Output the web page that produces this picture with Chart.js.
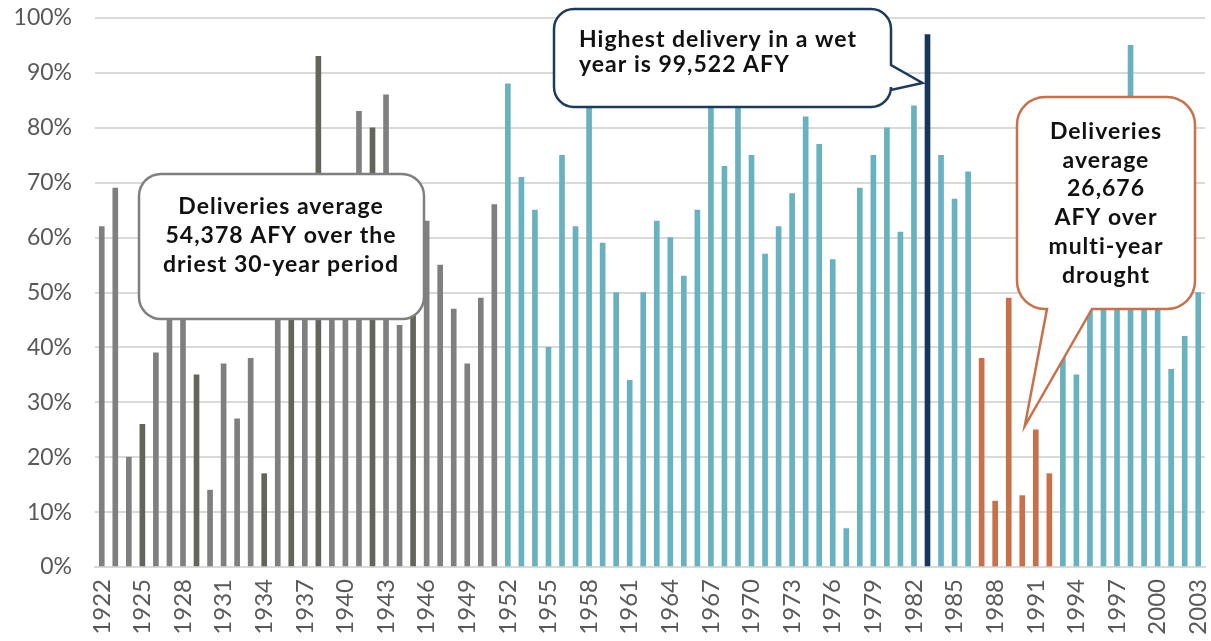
<!DOCTYPE html>
<html>
<head>
<meta charset="utf-8">
<script src="https://cdn.jsdelivr.net/npm/chart.js@4.4.1/dist/chart.umd.min.js"></script>
<style>
  html, body { margin: 0; padding: 0; background: #fff; overflow: hidden; }
  canvas { display: block; }
</style>
</head>
<body>
<canvas id="deliveries" width="1211" height="641"></canvas>
<script>
// Water year (categories)
const years = [
  1922, 1923, 1924, 1925, 1926, 1927, 1928, 1929, 1930, 1931,
  1932, 1933, 1934, 1935, 1936, 1937, 1938, 1939, 1940, 1941,
  1942, 1943, 1944, 1945, 1946, 1947, 1948, 1949, 1950, 1951,
  1952, 1953, 1954, 1955, 1956, 1957, 1958, 1959, 1960, 1961,
  1962, 1963, 1964, 1965, 1966, 1967, 1968, 1969, 1970, 1971,
  1972, 1973, 1974, 1975, 1976, 1977, 1978, 1979, 1980, 1981,
  1982, 1983, 1984, 1985, 1986, 1987, 1988, 1989, 1990, 1991,
  1992, 1993, 1994, 1995, 1996, 1997, 1998, 1999, 2000, 2001,
  2002, 2003
];

// Delivery as % of full allocation
const deliveryPct = [
  62, 69, 20, 26, 39, 64, 55, 35, 14, 37,
  27, 38, 17, 62, 63, 70, 93, 68, 66, 83,
  80, 86, 44, 55, 63, 55, 47, 37, 49, 66,
  88, 71, 65, 40, 75, 62, 86, 59, 50, 34,
  50, 63, 60, 53, 65, 90, 73, 92, 75, 57,
  62, 68, 82, 77, 56, 7, 69, 75, 80, 61,
  84, 97, 75, 67, 72, 38, 12, 49, 13, 25,
  17, 45, 35, 55, 60, 70, 95, 65, 52, 36,
  42, 50
];

const yTicks = [0, 10, 20, 30, 40, 50, 60, 70, 80, 90, 100];

// year groups used for colouring
const driestPeriod = [1922, 1951];
const darkYears = [1925, 1929, 1934, 1936, 1938, 1942, 1945];
const droughtYears = [1987, 1988, 1989, 1990, 1991, 1992];
const wettestYear = 1983;

const COLORS = {
  dry: '#7f7f7f',
  dryDark: '#62665a',
  normal: '#68b1c1',
  wettest: '#17365d',
  drought: '#c8704a'
};

function barColor(year) {
  if (year === wettestYear) return COLORS.wettest;
  if (droughtYears.includes(year)) return COLORS.drought;
  if (year >= driestPeriod[0] && year <= driestPeriod[1]) {
    return darkYears.includes(year) ? COLORS.dryDark : COLORS.dry;
  }
  return COLORS.normal;
}

// Callout boxes (annotation layout, pixels)
const callouts = [
  {
    box: { x: 139, y: 174, w: 285, h: 145, r: 22 },
    stroke: '#7f7f7f',
    align: 'center', textX: 281,
    lines: ['Deliveries average', '54,378 AFY over the', 'driest 30-year period'],
    baselines: [214, 243, 272]
  },
  {
    box: { x: 554, y: 9, w: 337, h: 98, r: 20 },
    stroke: '#1b3a5c',
    pointer: { side: 'right', a: 65, b: 90, year: 1983, dx: -5, tipY: 83 },
    align: 'left', textX: 579,
    lines: ['Highest delivery in a wet', 'year is 99,522 AFY'],
    baselines: [47, 72]
  },
  {
    box: { x: 1017, y: 97, w: 178, h: 212, r: 28 },
    stroke: '#c8704a',
    pointer: { side: 'bottom', a: 1047, b: 1092, year: 1991, dx: -11, tipY: 426 },
    align: 'center', textX: 1106,
    lines: ['Deliveries', 'average', '26,676', 'AFY over', 'multi-year', 'drought'],
    baselines: [139, 167.5, 196, 225, 254, 283]
  }
];

function calloutPath(ctx, c, tipX) {
  const { x, y, w, h, r } = c.box;
  const p = c.pointer;
  ctx.beginPath();
  ctx.moveTo(x + r, y);
  ctx.lineTo(x + w - r, y);
  ctx.arcTo(x + w, y, x + w, y + r, r);
  if (p && p.side === 'right') {
    ctx.lineTo(x + w, p.a);
    ctx.lineTo(tipX, p.tipY);
    ctx.lineTo(x + w, p.b);
  }
  ctx.lineTo(x + w, y + h - r);
  ctx.arcTo(x + w, y + h, x + w - r, y + h, r);
  if (p && p.side === 'bottom') {
    ctx.lineTo(p.b, y + h);
    ctx.lineTo(tipX, p.tipY);
    ctx.lineTo(p.a, y + h);
  }
  ctx.lineTo(x + r, y + h);
  ctx.arcTo(x, y + h, x, y + h - r, r);
  ctx.lineTo(x, y + r);
  ctx.arcTo(x, y, x + r, y, r);
  ctx.closePath();
}

const calloutPlugin = {
  id: 'callouts',
  afterDraw(chart) {
    const ctx = chart.ctx;
    const xScale = chart.scales.x;
    callouts.forEach(c => {
      let tipX = 0;
      if (c.pointer) {
        tipX = xScale.getPixelForValue(years.indexOf(c.pointer.year)) + c.pointer.dx;
      }
      ctx.save();
      calloutPath(ctx, c, tipX);
      ctx.fillStyle = '#ffffff';
      ctx.fill();
      ctx.lineWidth = 2.5;
      ctx.strokeStyle = c.stroke;
      ctx.lineJoin = 'miter';
      ctx.stroke();

      ctx.fillStyle = '#111111';
      ctx.font = 'bold 23px Lato';
      ctx.letterSpacing = '1px';
      ctx.textAlign = c.align;
      ctx.textBaseline = 'alphabetic';
      c.lines.forEach((line, i) => ctx.fillText(line, c.textX, c.baselines[i]));
      ctx.restore();
    });
  }
};

new Chart(document.getElementById('deliveries'), {
  type: 'bar',
  data: {
    labels: years,
    datasets: [{
      data: deliveryPct,
      backgroundColor: years.map(barColor),
      barThickness: 5,
      borderWidth: 0
    }]
  },
  options: {
    responsive: false,
    animation: false,
    devicePixelRatio: 1,
    layout: { padding: { top: 18, right: 6, left: 0, bottom: 0 } },
    plugins: {
      legend: { display: false },
      tooltip: { enabled: false }
    },
    scales: {
      x: {
        grid: { display: false, drawTicks: false },
        border: { display: true, color: '#d9d9d9', width: 2 },
        ticks: {
          autoSkip: false,
          minRotation: 90,
          maxRotation: 90,
          padding: 12,
          color: '#595959',
          font: { family: 'Lato', size: 24 },
          callback: (value, index) => (index % 3 === 0 ? String(years[index]) : '')
        },
        afterFit: (scale) => {
          scale.height = 74;
          scale.paddingLeft = 0;
          scale.paddingRight = 0;
        }
      },
      y: {
        min: 0,
        max: 100,
        afterBuildTicks: (scale) => { scale.ticks = yTicks.map(v => ({ value: v })); },
        grid: { color: '#d9d9d9', lineWidth: 2, drawTicks: false },
        border: { display: false },
        ticks: {
          padding: 23,
          color: '#595959',
          font: { family: 'Lato', size: 23 },
          callback: (value) => value + '%'
        },
        afterFit: (scale) => {
          scale.width = 95;
          scale.paddingTop = 0;
          scale.paddingBottom = 0;
        }
      }
    }
  },
  plugins: [calloutPlugin]
});
</script>
</body>
</html>
